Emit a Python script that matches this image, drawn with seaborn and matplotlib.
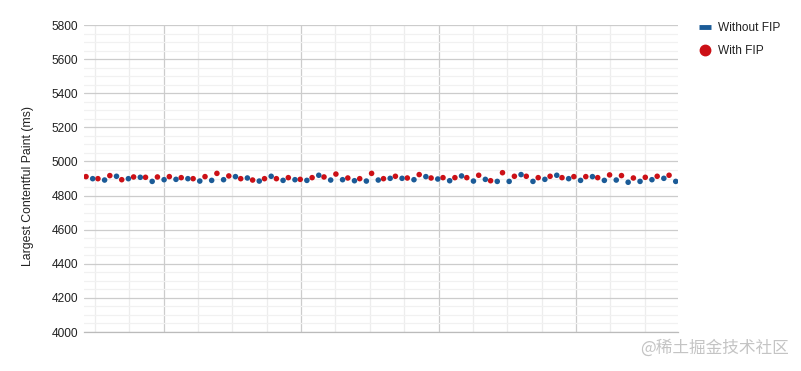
import numpy as np
import pandas as pd
import matplotlib
matplotlib.use("Agg")
import matplotlib.pyplot as plt
from matplotlib.lines import Line2D
from matplotlib.ticker import MultipleLocator, FixedLocator
import seaborn as sns

# ---- data ----
series_names = ["Without FIP", "With FIP"]
with_fip = [4911, 4899, 4917, 4893, 4909, 4907, 4909, 4911, 4905, 4899,
            4911, 4930, 4915, 4899, 4891, 4899, 4899, 4905, 4895, 4905,
            4909, 4926, 4903, 4899, 4930, 4899, 4913, 4903, 4923, 4903,
            4905, 4905, 4905, 4919, 4887, 4934, 4913, 4913, 4905, 4913,
            4905, 4911, 4911, 4905, 4921, 4917, 4903, 4907, 4913, 4919]
without_fip = [4899, 4891, 4913, 4899, 4907, 4883, 4893, 4895, 4899, 4885,
               4889, 4893, 4911, 4903, 4885, 4913, 4889, 4893, 4889, 4919,
               4891, 4893, 4887, 4885, 4891, 4901, 4901, 4893, 4911, 4897,
               4887, 4915, 4885, 4895, 4883, 4883, 4923, 4883, 4895, 4919,
               4899, 4889, 4911, 4889, 4891, 4878, 4883, 4893, 4901, 4883]
y_ticks = [4000, 4200, 4400, 4600, 4800, 5000, 5200, 5400, 5600, 5800]
y_label = "Largest Contentful Paint (ms)"

# ---- styling ----
BLUE = "#1b5b97"
RED = "#cc1016"
run_offset = {"With FIP": 0.0, "Without FIP": 0.56}

rows = []
for name, vals in (("With FIP", with_fip), ("Without FIP", without_fip)):
    for i, v in enumerate(vals):
        rows.append({"run": i + run_offset[name], "lcp": v, "series": name})
df = pd.DataFrame(rows)

sns.set_theme(style="white")
plt.rcParams["font.family"] = ["Liberation Sans", "DejaVu Sans"]

fig = plt.figure(figsize=(8.01, 3.71), dpi=100)
ax = fig.add_axes([84 / 801, 1 - 332 / 371, (678 - 84) / 801, (332 - 25) / 371])

# grid
ax.set_ylim(4000, 5800)
ax.set_xlim(-0.17, 49.75)
ax.yaxis.set_major_locator(FixedLocator(y_ticks))
ax.yaxis.set_minor_locator(MultipleLocator(50))
step = 2.887
first = 0.756
minor_x = [first + k * step for k in range(17) if k % 4 != 2]
major_x = [first + k * step for k in range(17) if k % 4 == 2]
ax.xaxis.set_major_locator(FixedLocator(major_x))
ax.xaxis.set_minor_locator(FixedLocator(minor_x))
ax.grid(which="major", axis="y", color="#cccccc", lw=0.9)
ax.grid(which="minor", axis="y", color="#f1f1f1", lw=0.9)
ax.grid(which="major", axis="x", color="#cccccc", lw=0.9)
ax.grid(which="minor", axis="x", color="#ededed", lw=0.9)
ax.set_axisbelow(True)
for s in ("top", "right", "left"):
    ax.spines[s].set_visible(False)
ax.spines["bottom"].set_color("#bbbbbb")
ax.spines["bottom"].set_linewidth(0.9)

sns.scatterplot(data=df, x="run", y="lcp", hue="series",
                hue_order=["With FIP", "Without FIP"],
                palette={"With FIP": RED, "Without FIP": BLUE},
                s=16, linewidth=0, ax=ax, legend=False, zorder=3)

ax.set_xticklabels([])
ax.tick_params(axis="x", which="both", length=0)
ax.tick_params(axis="y", which="both", length=0, labelsize=8.6,
               labelcolor="#222222", pad=4)
ax.set_xlabel("")
ax.set_ylabel(y_label, fontsize=8.8, color="#222222")
ax.yaxis.set_label_coords(-0.084, 0.477)

handles = [
    Line2D([], [], color=BLUE, lw=3.5, solid_capstyle="butt"),
    Line2D([], [], color=RED, marker="o", ls="none", markersize=7.5),
]
fig.legend(handles, series_names, loc="upper left",
           bbox_to_anchor=(688 / 801, 1 - 11 / 371), frameon=False,
           fontsize=8.6, handlelength=1.0, handletextpad=0.6,
           labelspacing=0.95, labelcolor="#222222")

fig.text(789 / 801, 1 - 348 / 371, "@稀土掘金技术社区", ha="right", va="center",
         fontsize=12, color="#c4c4c4",
         family=["Noto Sans CJK SC", "DejaVu Sans"])

fig.savefig("out.png", dpi=100)
